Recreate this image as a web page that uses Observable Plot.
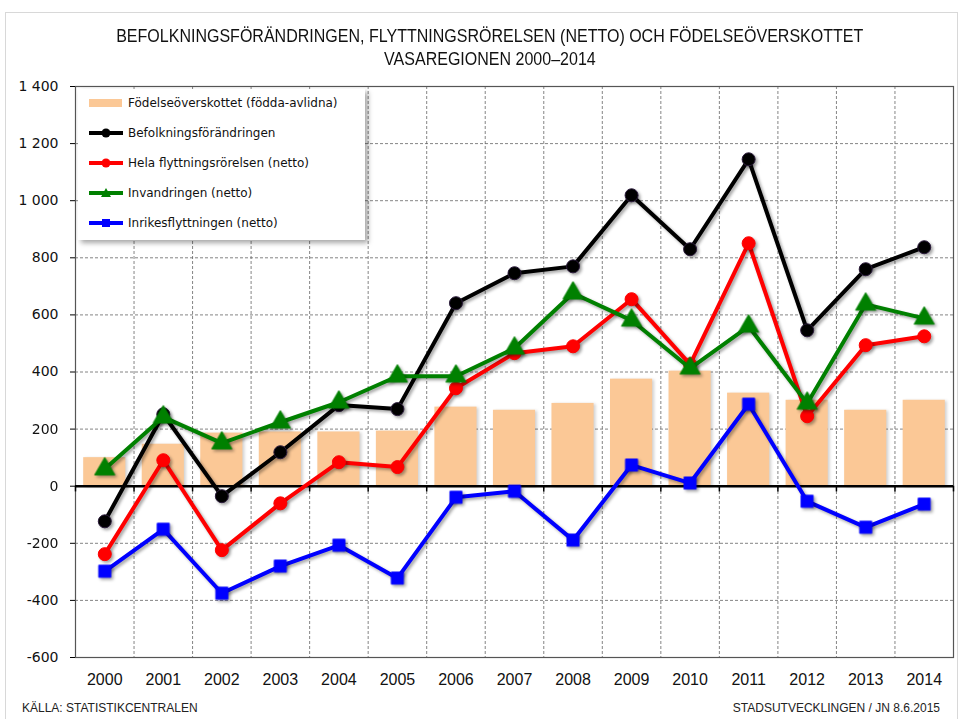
<!DOCTYPE html>
<html><head><meta charset="utf-8">
<script src="https://cdn.jsdelivr.net/npm/d3@7"></script>
<script src="https://cdn.jsdelivr.net/npm/@observablehq/plot@0.6"></script>
<style>
html,body{margin:0;padding:0;background:#fff;}
#wrap{position:relative;width:964px;height:719px;overflow:hidden;}
#border{position:absolute;left:5px;top:12px;width:953px;height:720px;border:1px solid #d8d8d8;box-sizing:border-box;}
.title{position:absolute;left:8px;width:964px;text-align:center;font-family:"Liberation Sans",Arial,sans-serif;font-size:18px;color:#111;}
.title span{display:inline-block;transform:scaleX(0.89);transform-origin:center;white-space:nowrap;}
.foot{position:absolute;top:701px;font-family:"Liberation Sans",Arial,sans-serif;font-size:12px;color:#222;}
#chart{position:absolute;left:0;top:0;}
#legend{position:absolute;left:78px;top:89px;width:287px;height:151px;background:#fff;box-shadow:3px 3px 5px rgba(0,0,0,0.35);font-family:"DejaVu Sans",Verdana,sans-serif;font-size:12px;color:#111;}
#legend .row{position:absolute;left:10px;height:20px;display:flex;align-items:center;}
#legend svg{margin-right:4px;}
g[aria-label="line"], g[aria-label="dot"]{filter:drop-shadow(2px 2px 1.5px rgba(0,0,0,0.35));}
g[aria-label="rect"]{filter:drop-shadow(2px 1px 1.5px rgba(0,0,0,0.18));}
g[aria-label="frame"]{filter:drop-shadow(3px 3px 2px rgba(0,0,0,0.45));}
</style></head>
<body>
<div id="wrap">
<div id="border"></div>
<div class="title" style="top:26px;"><span>BEFOLKNINGSFÖRÄNDRINGEN, FLYTTNINGSRÖRELSEN (NETTO) OCH FÖDELSEÖVERSKOTTET</span></div>
<div class="title" style="top:49px;"><span>VASAREGIONEN 2000–2014</span></div>
<div id="chart"></div>
<div id="legend"></div>
<div class="foot" style="left:22px;">KÄLLA: STATISTIKCENTRALEN</div>
<div class="foot" style="right:24px;">STADSUTVECKLINGEN / JN 8.6.2015</div>
</div>
<script>
const years = [2000,2001,2002,2003,2004,2005,2006,2007,2008,2009,2010,2011,2012,2013,2014];
const fodelseoverskott = [100,147,186,190,190,193,277,266,290,375,403,326,301,266,301];
const befolkning = [-123,252,-35,119,284,270,641,746,770,1019,830,1145,546,760,837];
const helaFlyttning = [-238,91,-224,-60,84,67,343,466,490,655,427,851,245,494,525];
const invandring = [60,242,151,224,294,385,385,483,676,581,413,560,290,637,588];
const inrikes = [-298,-151,-375,-280,-207,-322,-39,-18,-189,74,11,287,-53,-144,-63];
const yTicks = [-600,-400,-200,0,200,400,600,800,1000,1200,1400];
const legendLabels = ["Födelseöverskottet (födda-avlidna)","Befolkningsförändringen","Hela flyttningsrörelsen (netto)","Invandringen (netto)","Inrikesflyttningen (netto)"];

const barColor = "#fbc896";
const series = [
  {name: legendLabels[1], values: befolkning, color: "#000000", symbol: "circle", r: 6.5, stroke:"#2a1a3a"},
  {name: legendLabels[2], values: helaFlyttning, color: "#ff0000", symbol: "circle", r: 6.5, stroke:"#ff0000"},
  {name: legendLabels[3], values: invandring, color: "#008000", symbol: "triangle", r: 7.5, stroke:"#008000"},
  {name: legendLabels[4], values: inrikes, color: "#0000ff", symbol: "square", r: 6.8, stroke:"#0000ff"}
];
const bars = years.map((y,i)=>({year:y, value:fodelseoverskott[i]}));
const bounds = d3.range(1999.5, 2015, 1);
const fmt = d => (d<0?"-":"") + String(Math.abs(d)).replace(/\B(?=(\d{3})+(?!\d))/g, " ");

const marks = [
  Plot.ruleY(yTicks.filter(v=>v!==0 && v!==-600 && v!==1400), {stroke:"#666", strokeWidth:0.8, strokeDasharray:"3,2"}),
  Plot.ruleX(bounds.slice(1,-1), {stroke:"#666", strokeWidth:0.8, strokeDasharray:"3,2"}),
  Plot.rectY(bars, {x1: d=>d.year-0.36, x2: d=>d.year+0.36, y1: 0, y2: "value", fill: barColor}),
  Plot.frame({stroke:"#555", strokeWidth:1.2}),
  Plot.ruleY([0], {stroke:"#000", strokeWidth:2.5}),
  Plot.ruleX(bounds, {y1: 0, y2: -20, stroke:"#000", strokeWidth:1.5}),
];
for (const s of series) {
  const data = years.map((y,i)=>({year:y, value:s.values[i]}));
  marks.push(Plot.line(data, {x:"year", y:"value", stroke:s.color, strokeWidth:4, curve:"linear"}));
  marks.push(Plot.dot(data, {x:"year", y:"value", fill:s.color, stroke:s.stroke, strokeWidth:1, symbol:s.symbol, r:s.r}));
}
marks.push(Plot.axisY({ticks: yTicks, tickFormat: fmt, tickSize: 5, tickPadding: 12, fontSize: 14, fontFamily: "DejaVu Sans, Verdana, sans-serif", fill:"#111", label: null}));
marks.push(Plot.axisX({ticks: years, tickFormat: d=>String(d), tickSize: 0, tickPadding: 16, fontSize: 16, fontFamily: "Liberation Sans, Arial, sans-serif", fill:"#111", label: null}));

const chart = Plot.plot({
  width: 964, height: 719,
  marginTop: 86, marginBottom: 62, marginLeft: 75, marginRight: 11,
  x: {type:"linear", domain:[1999.5, 2014.5], label: null},
  y: {domain:[-600, 1400], label: null},
  style: {background:"transparent", overflow:"visible"},
  marks
});
document.getElementById("chart").appendChild(chart);

// legend
const legend = document.getElementById("legend");
const rows = [{label: legendLabels[0], bar:true}, ...series.map(s=>({label:s.name, s}))];
rows.forEach((r,i)=>{
  const div = document.createElement("div");
  div.className = "row";
  div.style.top = (4 + i*30) + "px";
  let sw;
  if (r.bar) {
    sw = `<svg width="36" height="14"><rect x="1" y="3" width="33" height="8" fill="${barColor}"/></svg>`;
  } else {
    const c = r.s.color;
    let m;
    if (r.s.symbol==="circle") m = `<circle cx="18" cy="7" r="4.5" fill="${c}"/>`;
    else if (r.s.symbol==="triangle") m = `<path d="M18,2 L23,11 L13,11 Z" fill="${c}"/>`;
    else m = `<rect x="14" y="3" width="8" height="8" fill="${c}"/>`;
    sw = `<svg width="36" height="14"><line x1="1" y1="7" x2="35" y2="7" stroke="${c}" stroke-width="4"/>${m}</svg>`;
  }
  div.innerHTML = sw + `<span>${r.label}</span>`;
  legend.appendChild(div);
});
</script>
</body></html>
